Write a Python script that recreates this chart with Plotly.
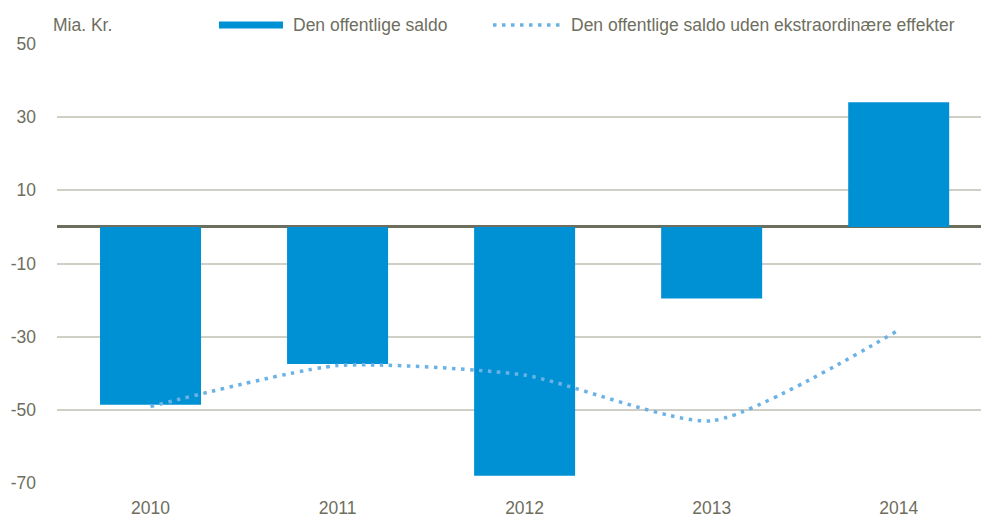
import plotly.graph_objects as go

years = ["2010", "2011", "2012", "2013", "2014"]
saldo = [-48.6, -37.5, -68.0, -19.6, 34.1]
saldo_uden = [-49.1, -37.9, -40.5, -53.0, -28.2]
y_ticks = [50, 30, 10, -10, -30, -50, -70]
name_bar = "Den offentlige saldo"
name_line = "Den offentlige saldo uden ekstraordinære effekter"
unit_label = "Mia. Kr."

bar_color = "#0091D5"
line_color = "#6BB2E5"
text_color = "#6E6E5E"
grid_color = "#CFCFC6"
font_family = "Liberation Sans, Arial, sans-serif"
fs = 17.5

# plot area in pixels: x 57..981, y 44..483
PL, PR, PT, PB = 57, 981, 44, 483
def px(x):
    return (x - PL) / (PR - PL)
def py(y):
    return (PB - y) / (PB - PT)

fig = go.Figure()
fig.add_trace(go.Bar(
    x=years, y=saldo, name=name_bar,
    marker=dict(color=bar_color, line=dict(width=0)),
    width=0.54, showlegend=False,
))
fig.add_trace(go.Scatter(
    x=years, y=saldo_uden, name=name_line,
    mode="lines", line=dict(color=line_color, width=3.5, dash="3.5px,5.5px",
                            shape="spline", smoothing=0.6),
    showlegend=False,
))

leg_y = py(25)
shapes = [
    dict(type="line", xref="paper", yref="paper", x0=px(219), x1=px(283), y0=leg_y, y1=leg_y,
         line=dict(color=bar_color, width=7)),
    dict(type="line", xref="paper", yref="paper", x0=px(493), x1=px(560), y0=leg_y, y1=leg_y,
         line=dict(color=line_color, width=3.5, dash="3.5px,5.5px")),
]
annotations = [
    dict(text=unit_label, xref="paper", yref="paper", x=px(51), y=leg_y,
         xanchor="left", yanchor="middle", showarrow=False, font=dict(size=fs, color=text_color)),
    dict(text=name_bar, xref="paper", yref="paper", x=px(291), y=leg_y,
         xanchor="left", yanchor="middle", showarrow=False, font=dict(size=fs, color=text_color)),
    dict(text=name_line, xref="paper", yref="paper", x=px(569), y=leg_y,
         xanchor="left", yanchor="middle", showarrow=False, font=dict(size=fs, color=text_color)),
]

fig.update_layout(
    width=981, height=517,
    margin=dict(l=PL, r=0, t=PT, b=517 - PB, autoexpand=False),
    paper_bgcolor="white", plot_bgcolor="white",
    font=dict(family=font_family, size=fs, color=text_color),
    showlegend=False,
    shapes=shapes,
    annotations=annotations,
)
fig.update_xaxes(
    type="category", range=[-0.5, 4.44], showgrid=False, zeroline=False,
    showline=False, ticks="", ticklabelstandoff=12, automargin=False,
    tickfont=dict(size=fs, color=text_color),
)
fig.update_yaxes(
    range=[-70, 50], tickvals=y_ticks, ticktext=[str(v) for v in y_ticks],
    showgrid=True, gridcolor=grid_color, gridwidth=2,
    zeroline=True, zerolinecolor="#6E6E5E", zerolinewidth=2.5,
    showline=False, ticks="", ticklabelstandoff=20, automargin=False,
    tickfont=dict(size=fs, color=text_color),
)

fig.write_html(
    "out.html",
    config={"displayModeBar": False},
    post_script="document.body.style.margin='0px';document.body.style.overflow='hidden';",
)
